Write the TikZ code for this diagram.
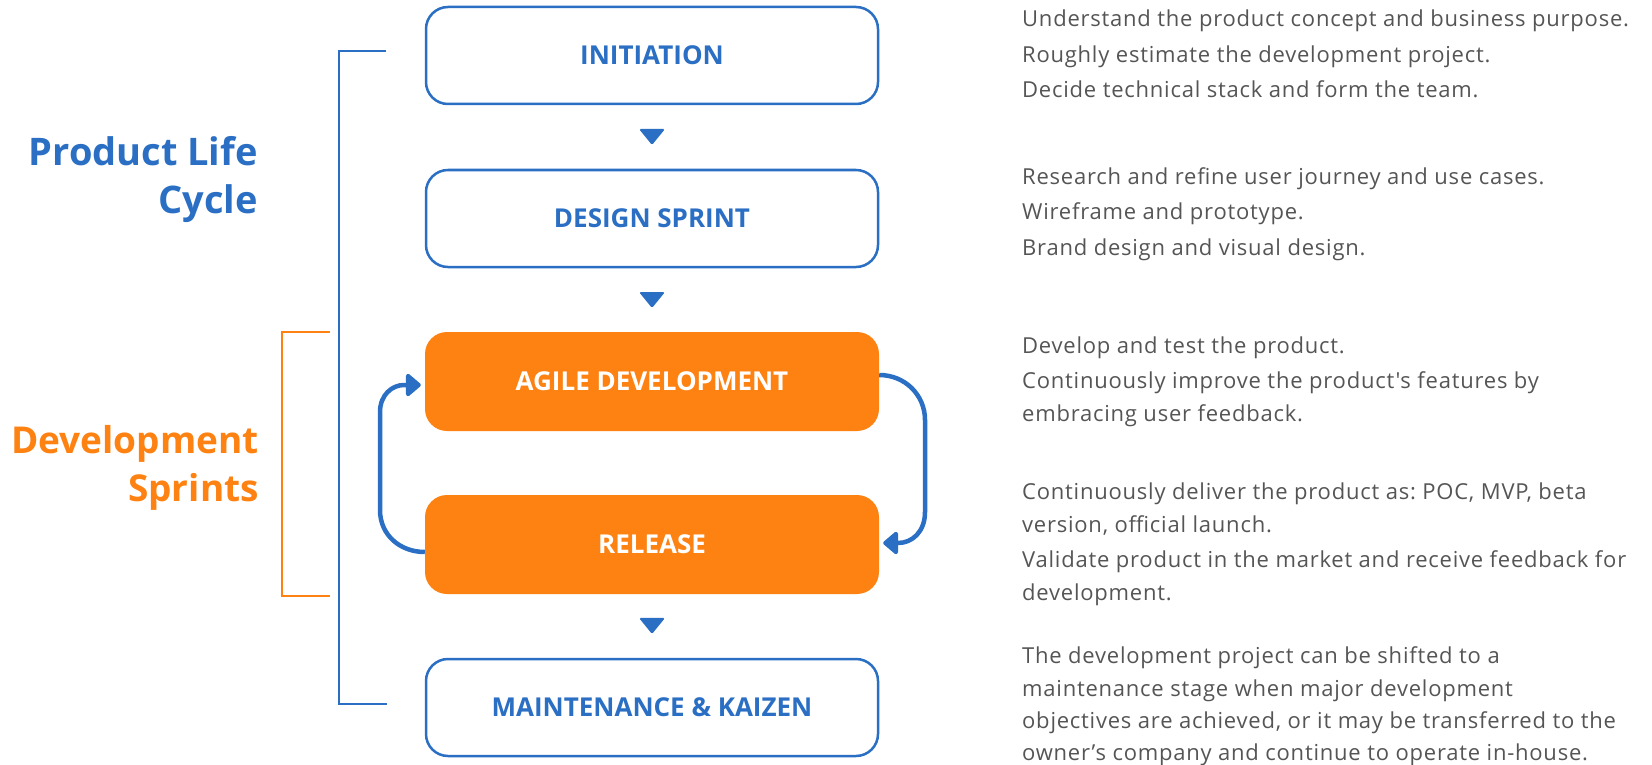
\documentclass[tikz,border=0pt]{standalone}
\usepackage{fontspec}
\setmainfont{Open Sans}
\newfontfamily\descfont[LetterSpace=3.5]{Open Sans}
\usetikzlibrary{arrows.meta,calc}
\definecolor{pblue}{HTML}{2A6FC3}
\definecolor{porange}{HTML}{FD8212}
\definecolor{ptext}{HTML}{555555}
\frenchspacing
\tikzset{
  stage/.style={rounded corners=22pt, minimum width=452pt, minimum height=97pt, inner sep=0pt,
    font=\fontsize{26}{30}\selectfont\bfseries},
  stagew/.style={stage, draw=pblue, line width=2.5pt, fill=white, text=pblue},
  stageo/.style={stage, fill=porange, text=white, minimum width=454pt, minimum height=99pt},
  side/.style={anchor=base east, inner sep=0pt, font=\fontsize{38}{44}\selectfont\bfseries},
  sideo/.style={side, font=\fontsize{37}{44}\selectfont\bfseries},
  desc/.style={anchor=base west, inner sep=0pt, text=ptext, font=\descfont\fontsize{22}{25}\selectfont},
  tri/.style={fill=pblue, rounded corners=1.5pt},
  loop/.style={draw=pblue, line width=4.5pt, -{Triangle[length=16pt,width=26pt,round]}},
  bbr/.style={draw=pblue, line width=2.5pt},
  obr/.style={draw=porange, line width=2pt}
}
\begin{document}
\begin{tikzpicture}[x=1pt,y=-1pt]
\useasboundingbox (0,0) rectangle (1652,765);
% brackets
\draw[bbr] (386,51) -- (339,51) -- (339,704) -- (387,704);
\draw[obr] (330,332) -- (282,332) -- (282,596) -- (330,596);
% side labels
\node[side, text=pblue] (plc1) at (258,166) {Product Life};
\node[side, text=pblue] (plc2) at (258,213) {Cycle};
\node[sideo, text=porange] (ds1) at (259,453) {Development};
\node[sideo, text=porange] (ds2) at (259,501) {Sprints};
% stages
\node[stagew] (ini) at (652,55.5) {\raisebox{1.5pt}{INITIATION}};
\node[stagew] (des) at (652,218.5) {\raisebox{1pt}{DESIGN SPRINT}};
\node[stageo] (agi) at (652,381.5) {\raisebox{1pt}{AGILE DEVELOPMENT}};
\node[stageo] (rel) at (652,544.5) {RELEASE};
\node[stagew] (mai) at (652,707.5) {MAINTENANCE \& KAIZEN};
% down triangles
\fill[tri] ($(ini.south)!.5!(des.north)$) ++(-13,-8) -- ++(26,0) -- ++(-13,16) -- cycle;
\fill[tri] ($(des.south)!.5!(agi.north)$) ++(-13,-8) -- ++(26,0) -- ++(-13,16) -- cycle;
\fill[tri] ($(rel.south)!.5!(mai.north)$) ++(-13,-8) -- ++(26,0) -- ++(-13,16) -- cycle;
% loop arrows
\draw[loop] ([yshift=-7.5pt]rel.west) .. controls (400,552) and (380,535) .. (380,510) -- (380,412)
  .. controls (380,395) and (392,385) .. (404,385) -- ([yshift=-3.5pt,xshift=-4pt]agi.west);
\draw[loop] ([yshift=6.5pt]agi.east) .. controls (905,375) and (925,395) .. (925,420) -- (925,512)
  .. controls (925,532) and (912,543) .. (898,543) -- ([yshift=1.5pt,xshift=4pt]rel.east);
% descriptions
\node[desc] (t11) at (1022,27) {Understand the product concept and business purpose.};
\node[desc] (t12) at (1022,62.5) {Roughly estimate the development project.};
\node[desc] (t13) at (1022,98) {Decide technical stack and form the team.};
\node[desc] (t21) at (1022,184) {Research and refine user journey and use cases.};
\node[desc] (t22) at (1022,219.5) {Wireframe and prototype.};
\node[desc] (t23) at (1022,255) {Brand design and visual design.};
\node[desc] (t31) at (1022,353) {Develop and test the product.};
\node[desc] (t32) at (1022,388) {Continuously improve the product{\char"0027}s features by};
\node[desc] (t33) at (1022,421) {embracing user feedback.};
\node[desc] (t41) at (1022,499) {Continuously deliver the product as: POC, MVP, beta};
\node[desc] (t42) at (1022,532) {version, official launch.};
\node[desc] (t43) at (1022,567) {Validate product in the market and receive feedback for};
\node[desc] (t44) at (1022,600) {development.};
\node[desc] (t51) at (1022,663) {The development project can be shifted to a};
\node[desc] (t52) at (1022,696) {maintenance stage when major development};
\node[desc] (t53) at (1022,728) {objectives are achieved, or it may be transferred to the};
\node[desc] (t54) at (1022,760) {owner’s company and continue to operate in-house.};
\end{tikzpicture}
\end{document}
